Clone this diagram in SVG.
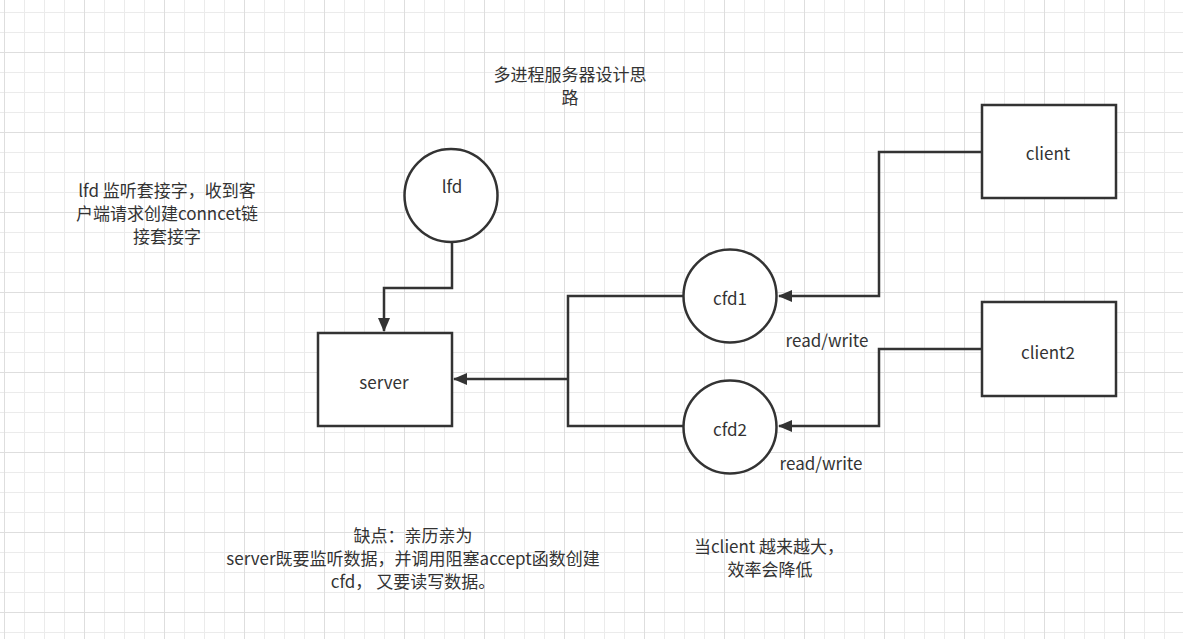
<svg xmlns="http://www.w3.org/2000/svg" width="1183" height="639" viewBox="0 0 1183 639">
<style>
.t{font-family:"Noto Sans CJK SC","Liberation Sans",sans-serif;font-size:17px;fill:#333;text-anchor:middle;dominant-baseline:central}
.s{fill:#fff;stroke:#333;stroke-width:2.5}
.c{fill:none;stroke:#333;stroke-width:2.5}
</style>
<defs>
<pattern id="minor" width="20" height="20" patternUnits="userSpaceOnUse" x="4" y="12">
<path d="M0.5 0V20M0 0.5H20" stroke="#ebebeb" stroke-width="1" fill="none"/>
</pattern>
<pattern id="major" width="80" height="80" patternUnits="userSpaceOnUse" x="4" y="52">
<path d="M0.5 0V80M0 0.5H80" stroke="#dedede" stroke-width="1" fill="none"/>
</pattern>
<marker id="arr" markerWidth="14" markerHeight="12" refX="13" refY="6" orient="auto" markerUnits="userSpaceOnUse">
<path d="M0 0L14 6L0 12Z" fill="#333"/>
</marker>
</defs>
<rect width="1183" height="639" fill="#fff"/>
<rect width="1183" height="639" fill="url(#minor)"/>
<rect width="1183" height="639" fill="url(#major)"/>

<g id="connectors">
<path class="c" d="M452 243V288H384V331" marker-end="url(#arr)"/>
<path class="c" d="M568 379H454" marker-end="url(#arr)"/>
<path class="c" d="M683 296H568V426H683"/>
<path class="c" d="M982 152H879V296H779" marker-end="url(#arr)"/>
<path class="c" d="M982 349H879V426H779" marker-end="url(#arr)"/>
</g>

<g id="lfd"><circle class="s" cx="451" cy="195.5" r="46.5"/><text class="t" x="452" y="185">lfd</text></g>
<g id="server"><rect class="s" x="318" y="333" width="134" height="93"/><text class="t" x="384" y="381">server</text></g>
<g id="cfd1"><circle class="s" cx="730" cy="296" r="46.5"/><text class="t" x="730" y="297">cfd1</text></g>
<g id="cfd2"><circle class="s" cx="730" cy="427" r="46.5"/><text class="t" x="730" y="428">cfd2</text></g>
<g id="client"><rect class="s" x="982" y="105" width="134" height="93"/><text class="t" x="1048" y="152">client</text></g>
<g id="client2"><rect class="s" x="982" y="302" width="134" height="94"/><text class="t" x="1048" y="351">client2</text></g>

<g id="labels">
<text class="t" x="827" y="339">read/write</text>
<text class="t" x="821" y="462">read/write</text>
<text class="t" x="570" y="73">多进程服务器设计思<tspan x="570" dy="23">路</tspan></text>
<text class="t" x="167" y="189">lfd 监听套接字，收到客<tspan x="167" dy="23">户端请求创建conncet链</tspan><tspan x="167" dy="23">接套接字</tspan></text>
<text class="t" x="413" y="534">缺点：亲历亲为<tspan x="413" dy="23">server既要监听数据，并调用阻塞accept函数创建</tspan><tspan x="413" dy="23">cfd， 又要读写数据。</tspan></text>
<text class="t" x="769" y="545">当client 越来越大，<tspan x="770" dy="23">效率会降低</tspan></text>
</g>
</svg>
